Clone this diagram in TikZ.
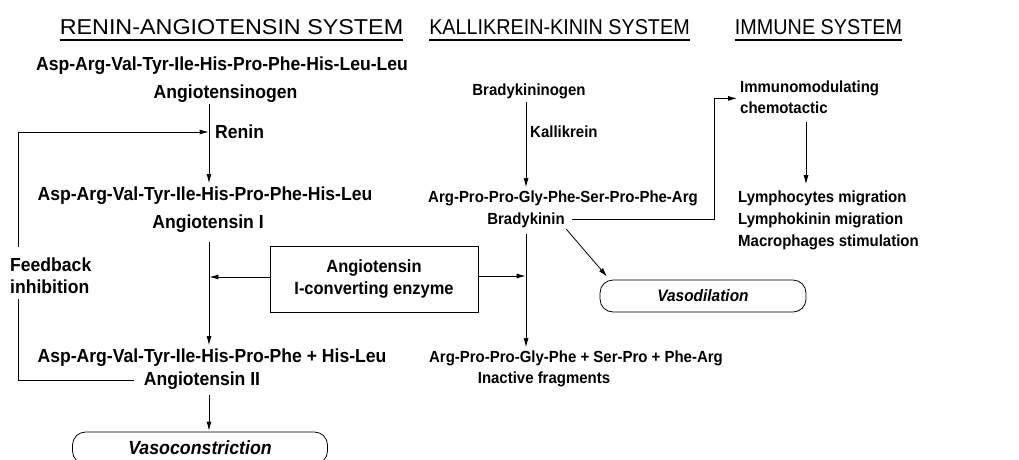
\documentclass[tikz,border=0pt]{standalone}
\usepackage{fontspec}
\usepackage{graphicx}
\setmainfont{Liberation Sans}
\newfontfamily\bodyfont[FakeStretch=0.93]{Liberation Sans}
\usetikzlibrary{arrows.meta,calc}
\begin{document}
\begin{tikzpicture}[x=1pt,y=-1pt,
  ttl/.style={font=\fontsize{21.5}{24}\selectfont, inner sep=0pt, anchor=base},
  ra/.style={font=\bodyfont\fontsize{18.9}{21}\selectfont\bfseries, inner sep=0pt, anchor=base},
  kk/.style={font=\bodyfont\fontsize{16.1}{18}\selectfont\bfseries, inner sep=0pt, anchor=base},
  ln/.style={line width=0.8pt},
  arr/.style={ln, -{Latex[length=9pt,width=5pt]}},
  uline/.style={line width=1.6pt},
  pill/.style={draw, line width=0.8pt, rounded corners=13pt, minimum height=32pt, inner sep=0pt},
  box/.style={draw, line width=0.9pt, minimum width=208pt, minimum height=66pt, align=center, inner sep=0pt,
    font=\bodyfont\fontsize{17.7}{22}\selectfont\bfseries}
]
\useasboundingbox (0,0) rectangle (1019,459);
\clip (0,0) rectangle (1019,459);

% titles
\node[ttl] (tRA) at (231.5,34) {\scalebox{1.085}[1]{RENIN-ANGIOTENSIN SYSTEM}};
\node[ttl] (tKK) at (559.5,34) {\scalebox{0.92}[1]{KALLIKREIN-KININ SYSTEM}};
\node[ttl] (tIM) at (818.5,34) {\scalebox{0.92}[1]{IMMUNE SYSTEM}};
\foreach \t in {tRA,tKK,tIM}{
  \draw[uline] ([yshift=-6pt]\t.base west) -- ([yshift=-6pt]\t.base east);
}

% column axes
\coordinate (xA) at (209,0);
\coordinate (xK) at (526,0);
\coordinate (xI) at (806,0);

% renin-angiotensin
\node[ra] (angen1) at (222,70) {Asp-Arg-Val-Tyr-Ile-His-Pro-Phe-His-Leu-Leu};
\node[ra] (angen2) at (225.5,98) {Angiotensinogen};
\node[ra, anchor=base west] (renin) at (215,138) {Renin};
\node[ra] (ang1a) at (205,200) {Asp-Arg-Val-Tyr-Ile-His-Pro-Phe-His-Leu};
\node[ra] (ang1b) at (208,228) {Angiotensin I};
\node[ra] (ang2a) at (212,362) {Asp-Arg-Val-Tyr-Ile-His-Pro-Phe + His-Leu};
\node[ra] (ang2b) at (202,385) {Angiotensin II};
\node[ra, anchor=base west] (fb1) at (10,271) {Feedback};
\node[ra, anchor=base west] (fb2) at (10,293) {inhibition};
\node[pill, minimum width=255pt, font=\bodyfont\fontsize{19.1}{20}\selectfont\bfseries\itshape] (vcon) at (200,448) {Vasoconstriction};

\node[box] (ace) at (374,279) {Angiotensin\\I-converting enzyme};

\coordinate (fbt) at (18,132);

\draw[arr, shorten <=2pt, shorten >=3pt] (angen2.south -| xA) -- (ang1a.north -| xA);
\draw[arr, shorten <=10pt, shorten >=3pt] (ang1b.south -| xA) -- (ang2a.north -| xA);
\draw[arr, shorten <=6pt, shorten >=1pt] (ang2b.south -| xA) -- (vcon.north -| xA);
\draw[arr, shorten >=0.4pt] ([yshift=2pt]ace.west) -- ([yshift=2pt]ace.west -| xA);
\draw[ln] ([xshift=-10pt]ang2b.west) -- (ang2b.west -| fbt) -- ([yshift=-6pt]fb2.south -| fbt);
\draw[arr, shorten >=0.4pt] ([yshift=10pt]fb1.north -| fbt) -- (fbt) -- (fbt -| xA);

% kallikrein-kinin
\node[kk] (bkgen) at (529,95) {Bradykininogen};
\node[kk, anchor=base west] (kall) at (530,137) {Kallikrein};
\node[kk] (bk1) at (563,202) {Arg-Pro-Pro-Gly-Phe-Ser-Pro-Phe-Arg};
\node[kk] (bk2) at (526,224) {Bradykinin};
\node[kk] (frag1) at (576,362) {Arg-Pro-Pro-Gly-Phe + Ser-Pro + Phe-Arg};
\node[kk] (frag2) at (544,383) {Inactive fragments};
\node[pill, minimum width=206pt, font=\bodyfont\fontsize{16.6}{18}\selectfont\bfseries\itshape] (vdil) at (703,296) {Vasodilation};

\draw[arr, shorten <=3pt, shorten >=3pt] (bkgen.south -| xK) -- (bk1.north -| xK);
\draw[arr, shorten <=6pt, shorten >=3pt] (bk2.south -| xK) -- (frag1.north -| xK);
\draw[arr, shorten >=0.4pt] ([yshift=3pt]ace.east) -- ([yshift=3pt]ace.east -| xK);
\draw[arr, shorten <=2pt, shorten >=4pt] (bk2.south east) -- ([xshift=10pt]vdil.north west);

% immune
\node[kk, anchor=base west] (imm1) at (740,92) {Immunomodulating};
\node[kk, anchor=base west] (imm2) at (740,113) {chemotactic};
\node[kk, anchor=base west] (lym1) at (738,202) {Lymphocytes migration};
\node[kk, anchor=base west] (lym2) at (738,224) {Lymphokinin migration};
\node[kk, anchor=base west] (lym3) at (738,246) {Macrophages stimulation};
\coordinate (imin) at ($(imm1.south west)!0.5!(imm2.north west)$);
\coordinate (brk) at (714,0);

\draw[arr, shorten <=7pt, shorten >=3pt] (bk2.east) -- (bk2.east -| brk) -- (imin -| brk) -- (imin);
\draw[arr, shorten <=9pt, shorten >=6pt] (imm2.south -| xI) -- (lym1.north -| xI);
\end{tikzpicture}
\end{document}
